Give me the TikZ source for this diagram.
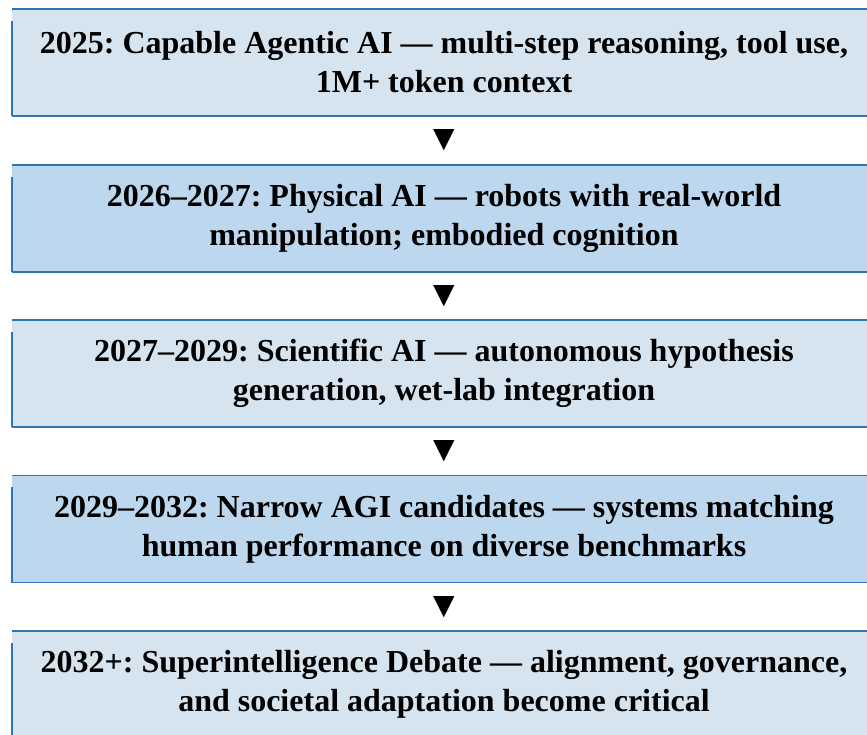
\documentclass[tikz,border=0pt]{standalone}
\usepackage{fontspec}
\setmainfont{Liberation Serif}
\newfontfamily\symfont{DejaVu Sans}
\usetikzlibrary{calc}
\definecolor{lightfill}{RGB}{214,228,240}
\definecolor{darkfill}{RGB}{189,215,238}
\definecolor{edgeblue}{RGB}{46,117,182}
\frenchspacing
\begin{document}
\begin{tikzpicture}[x=1pt,y=-1pt,
  stage/.style={minimum width=864pt, minimum height=107pt, inner sep=0pt, align=center,
    font=\fontsize{32}{39}\selectfont\bfseries\frenchspacing},
  lightstage/.style={stage, fill=lightfill},
  darkstage/.style={stage, fill=darkfill},
  edge/.style={draw=edgeblue, line width=1.5pt},
  tri/.style={inner sep=0pt, font=\fontsize{28}{28}\selectfont\symfont}]
\useasboundingbox (0,0) rectangle (867,734);
\clip (0,0) rectangle (867,734);
\fill[white] (0,0) rectangle (867,734);
\node[lightstage] (b1) at (444,62.5) {2025: Capable Agentic AI — multi-step reasoning, tool use,\\1M+ token context};
\node[darkstage] (b2) at (444,218.5) {2026–2027: Physical AI — robots with real-world\\manipulation; embodied cognition};
\node[lightstage] (b3) at (444,373.5) {2027–2029: Scientific AI — autonomous hypothesis\\generation, wet-lab integration};
\node[darkstage] (b4) at (444,529) {2029–2032: Narrow AGI candidates — systems matching\\human performance on diverse benchmarks};
\node[lightstage] (b5) at (444,684.5) {2032+: Superintelligence Debate — alignment, governance,\\and societal adaptation become critical};
\foreach \b in {b1,b2,b3,b4,b5}{
  \draw[edge] (\b.north west) -- (\b.north east);
  \draw[edge] (\b.south west) -- (\b.south east);
  \draw[edge] ($(\b.north west)+(0,12)$) -- (\b.south west);
}
\node[tri] (a1) at ($(b1.south)!0.5!(b2.north)$) {▼};
\node[tri] (a2) at ($(b2.south)!0.5!(b3.north)$) {▼};
\node[tri] (a3) at ($(b3.south)!0.5!(b4.north)$) {▼};
\node[tri] (a4) at ($(b4.south)!0.5!(b5.north)$) {▼};
\end{tikzpicture}
\end{document}
